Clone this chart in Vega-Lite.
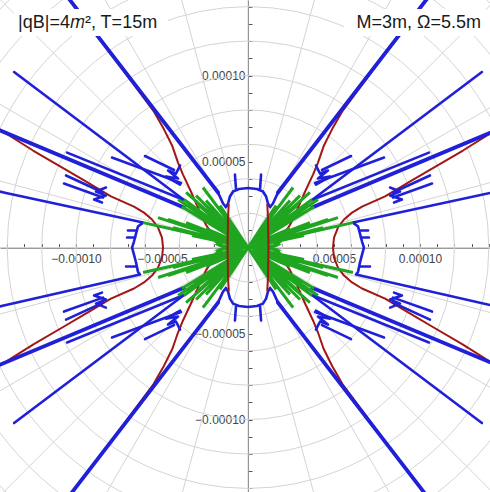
{
"$schema":"https://vega.github.io/schema/vega-lite/v6.json",
"width":490,"height":492,"padding":0,"autosize":{"type":"none"},
"background":"#ffffff",
"config":{"view":{"stroke":null}},
"datasets":{
"ring":[{"x":0,"y":0,"r":2e-5},{"x":0,"y":0,"r":4e-5},{"x":0,"y":0,"r":6e-5},{"x":0,"y":0,"r":8e-5},{"x":0,"y":0,"r":10e-5},{"x":0,"y":0,"r":12e-5},{"x":0,"y":0,"r":14e-5},{"x":0,"y":0,"r":16e-5},{"x":0,"y":0,"r":18e-5},{"x":0,"y":0,"r":20e-5}],
"spoke":[
{"x":2.2e-4,"y":0,"x2":-2.2e-4,"y2":0},
{"x":2.125e-4,"y":0.5694e-4,"x2":-2.125e-4,"y2":-0.5694e-4},
{"x":1.9053e-4,"y":1.1e-4,"x2":-1.9053e-4,"y2":-1.1e-4},
{"x":1.5556e-4,"y":1.5556e-4,"x2":-1.5556e-4,"y2":-1.5556e-4},
{"x":1.1e-4,"y":1.9053e-4,"x2":-1.1e-4,"y2":-1.9053e-4},
{"x":0.5694e-4,"y":2.125e-4,"x2":-0.5694e-4,"y2":-2.125e-4},
{"x":0,"y":2.2e-4,"x2":0,"y2":-2.2e-4},
{"x":-0.5694e-4,"y":2.125e-4,"x2":0.5694e-4,"y2":-2.125e-4},
{"x":-1.1e-4,"y":1.9053e-4,"x2":1.1e-4,"y2":-1.9053e-4},
{"x":-1.5556e-4,"y":1.5556e-4,"x2":1.5556e-4,"y2":-1.5556e-4},
{"x":-1.9053e-4,"y":1.1e-4,"x2":1.9053e-4,"y2":-1.1e-4},
{"x":-2.125e-4,"y":0.5694e-4,"x2":2.125e-4,"y2":-0.5694e-4}],
"red":[
{"s":"r1","x":15.23e-5,"y":7.15e-5},{"s":"r1","x":14.07e-5,"y":6.63e-5},{"s":"r1","x":12.5e-5,"y":5.64e-5},{"s":"r1","x":10.7e-5,"y":4.59e-5},{"s":"r1","x":9.53e-5,"y":3.9e-5},{"s":"r1","x":7.97e-5,"y":2.97e-5},{"s":"r1","x":6.63e-5,"y":2.38e-5},{"s":"r1","x":6.05e-5,"y":2.03e-5},{"s":"r1","x":5.58e-5,"y":1.63e-5},{"s":"r1","x":5.23e-5,"y":1.16e-5},{"s":"r1","x":5.0e-5,"y":0.58e-5},{"s":"r1","x":4.94e-5,"y":0},{"s":"r1","x":5.0e-5,"y":-0.58e-5},{"s":"r1","x":5.23e-5,"y":-1.16e-5},{"s":"r1","x":5.58e-5,"y":-1.63e-5},{"s":"r1","x":6.05e-5,"y":-2.03e-5},{"s":"r1","x":6.63e-5,"y":-2.38e-5},{"s":"r1","x":7.97e-5,"y":-2.97e-5},{"s":"r1","x":9.53e-5,"y":-3.9e-5},{"s":"r1","x":10.7e-5,"y":-4.59e-5},{"s":"r1","x":12.5e-5,"y":-5.64e-5},{"s":"r1","x":14.07e-5,"y":-6.63e-5},{"s":"r1","x":15.23e-5,"y":-7.15e-5},
{"s":"r2","x":-15.23e-5,"y":7.15e-5},{"s":"r2","x":-14.07e-5,"y":6.63e-5},{"s":"r2","x":-12.5e-5,"y":5.64e-5},{"s":"r2","x":-10.7e-5,"y":4.59e-5},{"s":"r2","x":-9.53e-5,"y":3.9e-5},{"s":"r2","x":-7.97e-5,"y":2.97e-5},{"s":"r2","x":-6.63e-5,"y":2.38e-5},{"s":"r2","x":-6.05e-5,"y":2.03e-5},{"s":"r2","x":-5.58e-5,"y":1.63e-5},{"s":"r2","x":-5.23e-5,"y":1.16e-5},{"s":"r2","x":-5.0e-5,"y":0.58e-5},{"s":"r2","x":-4.94e-5,"y":0},{"s":"r2","x":-5.0e-5,"y":-0.58e-5},{"s":"r2","x":-5.23e-5,"y":-1.16e-5},{"s":"r2","x":-5.58e-5,"y":-1.63e-5},{"s":"r2","x":-6.05e-5,"y":-2.03e-5},{"s":"r2","x":-6.63e-5,"y":-2.38e-5},{"s":"r2","x":-7.97e-5,"y":-2.97e-5},{"s":"r2","x":-9.53e-5,"y":-3.9e-5},{"s":"r2","x":-10.7e-5,"y":-4.59e-5},{"s":"r2","x":-12.5e-5,"y":-5.64e-5},{"s":"r2","x":-14.07e-5,"y":-6.63e-5},{"s":"r2","x":-15.23e-5,"y":-7.15e-5},
{"s":"q1","x":1.63e-5,"y":0.35e-5},{"s":"q1","x":2.09e-5,"y":0.81e-5},{"s":"q1","x":2.44e-5,"y":1.31e-5},{"s":"q1","x":2.91e-5,"y":2.33e-5},{"s":"q1","x":3.37e-5,"y":3.37e-5},{"s":"q1","x":3.78e-5,"y":4.24e-5},{"s":"q1","x":4.07e-5,"y":4.94e-5},{"s":"q1","x":4.4e-5,"y":5.9e-5},{"s":"q1","x":4.9e-5,"y":6.9e-5},{"s":"q1","x":5.5e-5,"y":7.95e-5},{"s":"q1","x":8.14e-5,"y":11.5e-5},{"s":"q1","x":11.05e-5,"y":15.29e-5},
{"s":"q2","x":-1.63e-5,"y":0.35e-5},{"s":"q2","x":-2.09e-5,"y":0.81e-5},{"s":"q2","x":-2.44e-5,"y":1.31e-5},{"s":"q2","x":-2.91e-5,"y":2.33e-5},{"s":"q2","x":-3.37e-5,"y":3.37e-5},{"s":"q2","x":-3.78e-5,"y":4.24e-5},{"s":"q2","x":-4.07e-5,"y":4.94e-5},{"s":"q2","x":-4.4e-5,"y":5.9e-5},{"s":"q2","x":-4.9e-5,"y":6.9e-5},{"s":"q2","x":-5.5e-5,"y":7.95e-5},{"s":"q2","x":-8.14e-5,"y":11.5e-5},{"s":"q2","x":-11.05e-5,"y":15.29e-5},
{"s":"q3","x":1.63e-5,"y":-0.35e-5},{"s":"q3","x":2.09e-5,"y":-0.81e-5},{"s":"q3","x":2.44e-5,"y":-1.31e-5},{"s":"q3","x":2.91e-5,"y":-2.33e-5},{"s":"q3","x":3.37e-5,"y":-3.37e-5},{"s":"q3","x":3.78e-5,"y":-4.24e-5},{"s":"q3","x":4.07e-5,"y":-4.94e-5},{"s":"q3","x":4.4e-5,"y":-5.9e-5},{"s":"q3","x":4.9e-5,"y":-6.9e-5},{"s":"q3","x":5.5e-5,"y":-7.95e-5},{"s":"q3","x":8.14e-5,"y":-11.5e-5},{"s":"q3","x":11.05e-5,"y":-15.29e-5},
{"s":"q4","x":-1.63e-5,"y":-0.35e-5},{"s":"q4","x":-2.09e-5,"y":-0.81e-5},{"s":"q4","x":-2.44e-5,"y":-1.31e-5},{"s":"q4","x":-2.91e-5,"y":-2.33e-5},{"s":"q4","x":-3.37e-5,"y":-3.37e-5},{"s":"q4","x":-3.78e-5,"y":-4.24e-5},{"s":"q4","x":-4.07e-5,"y":-4.94e-5},{"s":"q4","x":-4.4e-5,"y":-5.9e-5},{"s":"q4","x":-4.9e-5,"y":-6.9e-5},{"s":"q4","x":-5.5e-5,"y":-7.95e-5},{"s":"q4","x":-8.14e-5,"y":-11.5e-5},{"s":"q4","x":-11.05e-5,"y":-15.29e-5}],
"redTop":[
{"s":"s1","x":1.12e-5,"y":2.5e-5},{"s":"s1","x":1.16e-5,"y":1.74e-5},{"s":"s1","x":1.19e-5,"y":0},{"s":"s1","x":1.16e-5,"y":-1.74e-5},{"s":"s1","x":1.12e-5,"y":-2.5e-5},
{"s":"s2","x":-1.12e-5,"y":2.5e-5},{"s":"s2","x":-1.16e-5,"y":1.74e-5},{"s":"s2","x":-1.19e-5,"y":0},{"s":"s2","x":-1.16e-5,"y":-1.74e-5},{"s":"s2","x":-1.12e-5,"y":-2.5e-5}],
"blue":[
{"s":"o1","x":-1.74e-5,"y":3.2e-5},{"s":"o1","x":-1.45e-5,"y":2.56e-5},{"s":"o1","x":-1.28e-5,"y":2.35e-5},{"s":"o1","x":-1.16e-5,"y":2.56e-5},{"s":"o1","x":-1.05e-5,"y":2.97e-5},{"s":"o1","x":-0.87e-5,"y":3.26e-5},{"s":"o1","x":-0.52e-5,"y":3.4e-5},{"s":"o1","x":0,"y":3.46e-5},{"s":"o1","x":0.52e-5,"y":3.4e-5},{"s":"o1","x":0.87e-5,"y":3.26e-5},{"s":"o1","x":1.05e-5,"y":2.97e-5},{"s":"o1","x":1.16e-5,"y":2.56e-5},{"s":"o1","x":1.28e-5,"y":2.35e-5},{"s":"o1","x":1.45e-5,"y":2.56e-5},{"s":"o1","x":1.74e-5,"y":3.2e-5},
{"s":"o2","x":-1.74e-5,"y":-3.2e-5},{"s":"o2","x":-1.45e-5,"y":-2.56e-5},{"s":"o2","x":-1.28e-5,"y":-2.35e-5},{"s":"o2","x":-1.16e-5,"y":-2.56e-5},{"s":"o2","x":-1.05e-5,"y":-2.97e-5},{"s":"o2","x":-0.87e-5,"y":-3.26e-5},{"s":"o2","x":-0.52e-5,"y":-3.4e-5},{"s":"o2","x":0,"y":-3.46e-5},{"s":"o2","x":0.52e-5,"y":-3.4e-5},{"s":"o2","x":0.87e-5,"y":-3.26e-5},{"s":"o2","x":1.05e-5,"y":-2.97e-5},{"s":"o2","x":1.16e-5,"y":-2.56e-5},{"s":"o2","x":1.28e-5,"y":-2.35e-5},{"s":"o2","x":1.45e-5,"y":-2.56e-5},{"s":"o2","x":1.74e-5,"y":-3.2e-5},
{"s":"a1","x":0.7e-5,"y":3.43e-5},{"s":"a1","x":0.76e-5,"y":4.24e-5},
{"s":"a2","x":-0.7e-5,"y":3.43e-5},{"s":"a2","x":-0.76e-5,"y":4.24e-5},
{"s":"a3","x":0.7e-5,"y":-3.43e-5},{"s":"a3","x":0.76e-5,"y":-4.24e-5},
{"s":"a4","x":-0.7e-5,"y":-3.43e-5},{"s":"a4","x":-0.76e-5,"y":-4.24e-5},
{"s":"b2a","x":3.72e-5,"y":2.76e-5},{"s":"b2a","x":13.6e-5,"y":10.2e-5},
{"s":"b2b","x":-3.72e-5,"y":2.76e-5},{"s":"b2b","x":-13.6e-5,"y":10.2e-5},
{"s":"b2c","x":3.72e-5,"y":-2.76e-5},{"s":"b2c","x":13.6e-5,"y":-10.2e-5},
{"s":"b2d","x":-3.72e-5,"y":-2.76e-5},{"s":"b2d","x":-13.6e-5,"y":-10.2e-5},
{"s":"bba","x":3.72e-5,"y":2.76e-5},{"s":"bba","x":10.52e-5,"y":5.52e-5},
{"s":"bbb","x":-3.72e-5,"y":2.76e-5},{"s":"bbb","x":-10.52e-5,"y":5.52e-5},
{"s":"bbc","x":3.72e-5,"y":-2.76e-5},{"s":"bbc","x":10.52e-5,"y":-5.52e-5},
{"s":"bbd","x":-3.72e-5,"y":-2.76e-5},{"s":"bbd","x":-10.52e-5,"y":-5.52e-5},
{"s":"cca","x":3.9e-5,"y":3.75e-5},{"s":"cca","x":7.91e-5,"y":5.23e-5},
{"s":"ccb","x":-3.9e-5,"y":3.75e-5},{"s":"ccb","x":-7.91e-5,"y":5.23e-5},
{"s":"ccc","x":3.9e-5,"y":-3.75e-5},{"s":"ccc","x":7.91e-5,"y":-5.23e-5},
{"s":"ccd","x":-3.9e-5,"y":-3.75e-5},{"s":"ccd","x":-7.91e-5,"y":-5.23e-5},
{"s":"dda","x":4.3e-5,"y":4.51e-5},{"s":"dda","x":5.99e-5,"y":5.32e-5},
{"s":"ddb","x":-4.3e-5,"y":4.51e-5},{"s":"ddb","x":-5.99e-5,"y":5.32e-5},
{"s":"ddc","x":4.3e-5,"y":-4.51e-5},{"s":"ddc","x":5.99e-5,"y":-5.32e-5},
{"s":"ddd","x":-4.3e-5,"y":-4.51e-5},{"s":"ddd","x":-5.99e-5,"y":-5.32e-5},
{"s":"z1a","x":3.95e-5,"y":4.77e-5},{"s":"z1a","x":4.19e-5,"y":4.3e-5},{"s":"z1a","x":4.65e-5,"y":4.48e-5},{"s":"z1a","x":4.07e-5,"y":4.01e-5},{"s":"z1a","x":4.77e-5,"y":4.13e-5},{"s":"z1a","x":3.95e-5,"y":3.66e-5},
{"s":"z1b","x":-3.95e-5,"y":4.77e-5},{"s":"z1b","x":-4.19e-5,"y":4.3e-5},{"s":"z1b","x":-4.65e-5,"y":4.48e-5},{"s":"z1b","x":-4.07e-5,"y":4.01e-5},{"s":"z1b","x":-4.77e-5,"y":4.13e-5},{"s":"z1b","x":-3.95e-5,"y":3.66e-5},
{"s":"z1c","x":3.95e-5,"y":-4.77e-5},{"s":"z1c","x":4.19e-5,"y":-4.3e-5},{"s":"z1c","x":4.65e-5,"y":-4.48e-5},{"s":"z1c","x":4.07e-5,"y":-4.01e-5},{"s":"z1c","x":4.77e-5,"y":-4.13e-5},{"s":"z1c","x":3.95e-5,"y":-3.66e-5},
{"s":"z1d","x":-3.95e-5,"y":-4.77e-5},{"s":"z1d","x":-4.19e-5,"y":-4.3e-5},{"s":"z1d","x":-4.65e-5,"y":-4.48e-5},{"s":"z1d","x":-4.07e-5,"y":-4.01e-5},{"s":"z1d","x":-4.77e-5,"y":-4.13e-5},{"s":"z1d","x":-3.95e-5,"y":-3.66e-5},
{"s":"e1a","x":8.43e-5,"y":2.91e-5},{"s":"e1a","x":10.7e-5,"y":3.72e-5},
{"s":"e1b","x":-8.43e-5,"y":2.91e-5},{"s":"e1b","x":-10.7e-5,"y":3.72e-5},
{"s":"e1c","x":8.43e-5,"y":-2.91e-5},{"s":"e1c","x":10.7e-5,"y":-3.72e-5},
{"s":"e1d","x":-8.43e-5,"y":-2.91e-5},{"s":"e1d","x":-10.7e-5,"y":-3.72e-5},
{"s":"e2a","x":8.43e-5,"y":3.2e-5},{"s":"e2a","x":10.58e-5,"y":4.19e-5},
{"s":"e2b","x":-8.43e-5,"y":3.2e-5},{"s":"e2b","x":-10.58e-5,"y":4.19e-5},
{"s":"e2c","x":8.43e-5,"y":-3.2e-5},{"s":"e2c","x":10.58e-5,"y":-4.19e-5},
{"s":"e2d","x":-8.43e-5,"y":-3.2e-5},{"s":"e2d","x":-10.58e-5,"y":-4.19e-5},
{"s":"z2a","x":8.26e-5,"y":3.49e-5},{"s":"z2a","x":8.84e-5,"y":3.26e-5},{"s":"z2a","x":8.26e-5,"y":3.02e-5},{"s":"z2a","x":8.95e-5,"y":2.79e-5},{"s":"z2a","x":8.49e-5,"y":2.62e-5},
{"s":"z2b","x":-8.26e-5,"y":3.49e-5},{"s":"z2b","x":-8.84e-5,"y":3.26e-5},{"s":"z2b","x":-8.26e-5,"y":3.02e-5},{"s":"z2b","x":-8.95e-5,"y":2.79e-5},{"s":"z2b","x":-8.49e-5,"y":2.62e-5},
{"s":"z2c","x":8.26e-5,"y":-3.49e-5},{"s":"z2c","x":8.84e-5,"y":-3.26e-5},{"s":"z2c","x":8.26e-5,"y":-3.02e-5},{"s":"z2c","x":8.95e-5,"y":-2.79e-5},{"s":"z2c","x":8.49e-5,"y":-2.62e-5},
{"s":"z2d","x":-8.26e-5,"y":-3.49e-5},{"s":"z2d","x":-8.84e-5,"y":-3.26e-5},{"s":"z2d","x":-8.26e-5,"y":-3.02e-5},{"s":"z2d","x":-8.95e-5,"y":-2.79e-5},{"s":"z2d","x":-8.49e-5,"y":-2.62e-5},
{"s":"v1","x":15.12e-5,"y":3.4e-5},{"s":"v1","x":14.07e-5,"y":3.17e-5},{"s":"v1","x":6.1e-5,"y":1.45e-5},{"s":"v1","x":6.4e-5,"y":1.22e-5},{"s":"v1","x":6.51e-5,"y":0.81e-5},{"s":"v1","x":6.63e-5,"y":0.35e-5},{"s":"v1","x":6.74e-5,"y":0},{"s":"v1","x":6.63e-5,"y":-0.41e-5},{"s":"v1","x":6.51e-5,"y":-0.87e-5},{"s":"v1","x":6.4e-5,"y":-1.4e-5},{"s":"v1","x":6.28e-5,"y":-1.57e-5},{"s":"v1","x":14.07e-5,"y":-3.34e-5},{"s":"v1","x":15.12e-5,"y":-3.58e-5},
{"s":"v2","x":-15.12e-5,"y":3.4e-5},{"s":"v2","x":-14.07e-5,"y":3.17e-5},{"s":"v2","x":-6.1e-5,"y":1.45e-5},{"s":"v2","x":-6.4e-5,"y":1.22e-5},{"s":"v2","x":-6.51e-5,"y":0.81e-5},{"s":"v2","x":-6.63e-5,"y":0.35e-5},{"s":"v2","x":-6.74e-5,"y":0},{"s":"v2","x":-6.63e-5,"y":-0.41e-5},{"s":"v2","x":-6.51e-5,"y":-0.87e-5},{"s":"v2","x":-6.4e-5,"y":-1.4e-5},{"s":"v2","x":-6.28e-5,"y":-1.57e-5},{"s":"v2","x":-14.07e-5,"y":-3.34e-5},{"s":"v2","x":-15.12e-5,"y":-3.58e-5},
{"s":"w1","x":6.57e-5,"y":0.99e-5},{"s":"w1","x":6.98e-5,"y":0.99e-5},
{"s":"w2","x":6.57e-5,"y":0.58e-5},{"s":"w2","x":7.03e-5,"y":0.58e-5},
{"s":"w3","x":6.51e-5,"y":-1.1e-5},{"s":"w3","x":7.09e-5,"y":-1.1e-5},
{"s":"w4","x":-6.57e-5,"y":0.99e-5},{"s":"w4","x":-6.98e-5,"y":0.99e-5},
{"s":"w5","x":-6.57e-5,"y":0.58e-5},{"s":"w5","x":-7.03e-5,"y":0.58e-5},
{"s":"w6","x":-6.51e-5,"y":-1.1e-5},{"s":"w6","x":-7.09e-5,"y":-1.1e-5}],
"thick":[
{"s":"t1","x":1.74e-5,"y":3.2e-5},{"s":"t1","x":11.05e-5,"y":15.29e-5},
{"s":"t2","x":-1.74e-5,"y":3.2e-5},{"s":"t2","x":-11.05e-5,"y":15.29e-5},
{"s":"t3","x":1.74e-5,"y":-3.2e-5},{"s":"t3","x":11.05e-5,"y":-15.29e-5},
{"s":"t4","x":-1.74e-5,"y":-3.2e-5},{"s":"t4","x":-11.05e-5,"y":-15.29e-5},
{"s":"t5","x":3.72e-5,"y":2.33e-5},{"s":"t5","x":15.23e-5,"y":7.15e-5},
{"s":"t6","x":-3.72e-5,"y":2.33e-5},{"s":"t6","x":-15.23e-5,"y":7.15e-5},
{"s":"t7","x":3.72e-5,"y":-2.33e-5},{"s":"t7","x":15.23e-5,"y":-7.15e-5},
{"s":"t8","x":-3.72e-5,"y":-2.33e-5},{"s":"t8","x":-15.23e-5,"y":-7.15e-5}],
"green":[
{"s":"g1","x":0,"y":0},{"s":"g1","x":1.63e-5,"y":0.12e-5},{"s":"g1","x":1.8e-5,"y":0.29e-5},{"s":"g1","x":1.51e-5,"y":0.35e-5},{"s":"g1","x":2.09e-5,"y":0.58e-5},{"s":"g1","x":0.23e-5,"y":0.06e-5},{"s":"g1","x":3.26e-5,"y":0.7e-5},{"s":"g1","x":0.29e-5,"y":0.12e-5},{"s":"g1","x":3.72e-5,"y":0.93e-5},{"s":"g1","x":0.23e-5,"y":0.12e-5},{"s":"g1","x":4.36e-5,"y":1.16e-5},{"s":"g1","x":0.23e-5,"y":0.12e-5},{"s":"g1","x":2.44e-5,"y":1.1e-5},{"s":"g1","x":0.29e-5,"y":0.17e-5},{"s":"g1","x":3.6e-5,"y":1.45e-5},{"s":"g1","x":0.29e-5,"y":0.17e-5},{"s":"g1","x":4.65e-5,"y":1.63e-5},{"s":"g1","x":0.29e-5,"y":0.17e-5},{"s":"g1","x":6.1e-5,"y":1.45e-5},{"s":"g1","x":0.23e-5,"y":0.12e-5},{"s":"g1","x":5.23e-5,"y":1.74e-5},{"s":"g1","x":0.23e-5,"y":0.12e-5},{"s":"g1","x":2.62e-5,"y":1.74e-5},{"s":"g1","x":0.23e-5,"y":0.17e-5},{"s":"g1","x":3.84e-5,"y":2.38e-5},{"s":"g1","x":0.23e-5,"y":0.17e-5},{"s":"g1","x":3.2e-5,"y":2.03e-5},{"s":"g1","x":0.23e-5,"y":0.17e-5},{"s":"g1","x":2.91e-5,"y":2.5e-5},{"s":"g1","x":0.17e-5,"y":0.17e-5},{"s":"g1","x":3.72e-5,"y":2.79e-5},{"s":"g1","x":0.17e-5,"y":0.17e-5},{"s":"g1","x":4.07e-5,"y":2.79e-5},{"s":"g1","x":0.17e-5,"y":0.17e-5},{"s":"g1","x":3.6e-5,"y":3.2e-5},{"s":"g1","x":0.17e-5,"y":0.17e-5},{"s":"g1","x":3.02e-5,"y":3.02e-5},{"s":"g1","x":0.17e-5,"y":0.17e-5},{"s":"g1","x":2.44e-5,"y":2.73e-5},{"s":"g1","x":0.17e-5,"y":0.23e-5},{"s":"g1","x":2.62e-5,"y":3.49e-5},{"s":"g1","x":0.17e-5,"y":0.23e-5},{"s":"g1","x":1.63e-5,"y":2.44e-5},{"s":"g1","x":0,"y":0},
{"s":"g2","x":0,"y":0},{"s":"g2","x":-1.63e-5,"y":0.12e-5},{"s":"g2","x":-1.8e-5,"y":0.29e-5},{"s":"g2","x":-1.51e-5,"y":0.35e-5},{"s":"g2","x":-2.09e-5,"y":0.58e-5},{"s":"g2","x":-0.23e-5,"y":0.06e-5},{"s":"g2","x":-3.26e-5,"y":0.7e-5},{"s":"g2","x":-0.29e-5,"y":0.12e-5},{"s":"g2","x":-3.72e-5,"y":0.93e-5},{"s":"g2","x":-0.23e-5,"y":0.12e-5},{"s":"g2","x":-4.36e-5,"y":1.16e-5},{"s":"g2","x":-0.23e-5,"y":0.12e-5},{"s":"g2","x":-2.44e-5,"y":1.1e-5},{"s":"g2","x":-0.29e-5,"y":0.17e-5},{"s":"g2","x":-3.6e-5,"y":1.45e-5},{"s":"g2","x":-0.29e-5,"y":0.17e-5},{"s":"g2","x":-4.65e-5,"y":1.63e-5},{"s":"g2","x":-0.29e-5,"y":0.17e-5},{"s":"g2","x":-6.1e-5,"y":1.45e-5},{"s":"g2","x":-0.23e-5,"y":0.12e-5},{"s":"g2","x":-5.23e-5,"y":1.74e-5},{"s":"g2","x":-0.23e-5,"y":0.12e-5},{"s":"g2","x":-2.62e-5,"y":1.74e-5},{"s":"g2","x":-0.23e-5,"y":0.17e-5},{"s":"g2","x":-3.84e-5,"y":2.38e-5},{"s":"g2","x":-0.23e-5,"y":0.17e-5},{"s":"g2","x":-3.2e-5,"y":2.03e-5},{"s":"g2","x":-0.23e-5,"y":0.17e-5},{"s":"g2","x":-2.91e-5,"y":2.5e-5},{"s":"g2","x":-0.17e-5,"y":0.17e-5},{"s":"g2","x":-3.72e-5,"y":2.79e-5},{"s":"g2","x":-0.17e-5,"y":0.17e-5},{"s":"g2","x":-4.07e-5,"y":2.79e-5},{"s":"g2","x":-0.17e-5,"y":0.17e-5},{"s":"g2","x":-3.6e-5,"y":3.2e-5},{"s":"g2","x":-0.17e-5,"y":0.17e-5},{"s":"g2","x":-3.02e-5,"y":3.02e-5},{"s":"g2","x":-0.17e-5,"y":0.17e-5},{"s":"g2","x":-2.44e-5,"y":2.73e-5},{"s":"g2","x":-0.17e-5,"y":0.23e-5},{"s":"g2","x":-2.62e-5,"y":3.49e-5},{"s":"g2","x":-0.17e-5,"y":0.23e-5},{"s":"g2","x":-1.63e-5,"y":2.44e-5},{"s":"g2","x":0,"y":0},
{"s":"g3","x":0,"y":0},{"s":"g3","x":1.63e-5,"y":-0.12e-5},{"s":"g3","x":1.8e-5,"y":-0.29e-5},{"s":"g3","x":1.51e-5,"y":-0.35e-5},{"s":"g3","x":2.09e-5,"y":-0.58e-5},{"s":"g3","x":0.23e-5,"y":-0.06e-5},{"s":"g3","x":3.26e-5,"y":-0.7e-5},{"s":"g3","x":0.29e-5,"y":-0.12e-5},{"s":"g3","x":3.72e-5,"y":-0.93e-5},{"s":"g3","x":0.23e-5,"y":-0.12e-5},{"s":"g3","x":4.36e-5,"y":-1.16e-5},{"s":"g3","x":0.23e-5,"y":-0.12e-5},{"s":"g3","x":2.44e-5,"y":-1.1e-5},{"s":"g3","x":0.29e-5,"y":-0.17e-5},{"s":"g3","x":3.6e-5,"y":-1.45e-5},{"s":"g3","x":0.29e-5,"y":-0.17e-5},{"s":"g3","x":4.65e-5,"y":-1.63e-5},{"s":"g3","x":0.29e-5,"y":-0.17e-5},{"s":"g3","x":6.1e-5,"y":-1.45e-5},{"s":"g3","x":0.23e-5,"y":-0.12e-5},{"s":"g3","x":5.23e-5,"y":-1.74e-5},{"s":"g3","x":0.23e-5,"y":-0.12e-5},{"s":"g3","x":2.62e-5,"y":-1.74e-5},{"s":"g3","x":0.23e-5,"y":-0.17e-5},{"s":"g3","x":3.84e-5,"y":-2.38e-5},{"s":"g3","x":0.23e-5,"y":-0.17e-5},{"s":"g3","x":3.2e-5,"y":-2.03e-5},{"s":"g3","x":0.23e-5,"y":-0.17e-5},{"s":"g3","x":2.91e-5,"y":-2.5e-5},{"s":"g3","x":0.17e-5,"y":-0.17e-5},{"s":"g3","x":3.72e-5,"y":-2.79e-5},{"s":"g3","x":0.17e-5,"y":-0.17e-5},{"s":"g3","x":4.07e-5,"y":-2.79e-5},{"s":"g3","x":0.17e-5,"y":-0.17e-5},{"s":"g3","x":3.6e-5,"y":-3.2e-5},{"s":"g3","x":0.17e-5,"y":-0.17e-5},{"s":"g3","x":3.02e-5,"y":-3.02e-5},{"s":"g3","x":0.17e-5,"y":-0.17e-5},{"s":"g3","x":2.44e-5,"y":-2.73e-5},{"s":"g3","x":0.17e-5,"y":-0.23e-5},{"s":"g3","x":2.62e-5,"y":-3.49e-5},{"s":"g3","x":0.17e-5,"y":-0.23e-5},{"s":"g3","x":1.63e-5,"y":-2.44e-5},{"s":"g3","x":0,"y":0},
{"s":"g4","x":0,"y":0},{"s":"g4","x":-1.63e-5,"y":-0.12e-5},{"s":"g4","x":-1.8e-5,"y":-0.29e-5},{"s":"g4","x":-1.51e-5,"y":-0.35e-5},{"s":"g4","x":-2.09e-5,"y":-0.58e-5},{"s":"g4","x":-0.23e-5,"y":-0.06e-5},{"s":"g4","x":-3.26e-5,"y":-0.7e-5},{"s":"g4","x":-0.29e-5,"y":-0.12e-5},{"s":"g4","x":-3.72e-5,"y":-0.93e-5},{"s":"g4","x":-0.23e-5,"y":-0.12e-5},{"s":"g4","x":-4.36e-5,"y":-1.16e-5},{"s":"g4","x":-0.23e-5,"y":-0.12e-5},{"s":"g4","x":-2.44e-5,"y":-1.1e-5},{"s":"g4","x":-0.29e-5,"y":-0.17e-5},{"s":"g4","x":-3.6e-5,"y":-1.45e-5},{"s":"g4","x":-0.29e-5,"y":-0.17e-5},{"s":"g4","x":-4.65e-5,"y":-1.63e-5},{"s":"g4","x":-0.29e-5,"y":-0.17e-5},{"s":"g4","x":-6.1e-5,"y":-1.45e-5},{"s":"g4","x":-0.23e-5,"y":-0.12e-5},{"s":"g4","x":-5.23e-5,"y":-1.74e-5},{"s":"g4","x":-0.23e-5,"y":-0.12e-5},{"s":"g4","x":-2.62e-5,"y":-1.74e-5},{"s":"g4","x":-0.23e-5,"y":-0.17e-5},{"s":"g4","x":-3.84e-5,"y":-2.38e-5},{"s":"g4","x":-0.23e-5,"y":-0.17e-5},{"s":"g4","x":-3.2e-5,"y":-2.03e-5},{"s":"g4","x":-0.23e-5,"y":-0.17e-5},{"s":"g4","x":-2.91e-5,"y":-2.5e-5},{"s":"g4","x":-0.17e-5,"y":-0.17e-5},{"s":"g4","x":-3.72e-5,"y":-2.79e-5},{"s":"g4","x":-0.17e-5,"y":-0.17e-5},{"s":"g4","x":-4.07e-5,"y":-2.79e-5},{"s":"g4","x":-0.17e-5,"y":-0.17e-5},{"s":"g4","x":-3.6e-5,"y":-3.2e-5},{"s":"g4","x":-0.17e-5,"y":-0.17e-5},{"s":"g4","x":-3.02e-5,"y":-3.02e-5},{"s":"g4","x":-0.17e-5,"y":-0.17e-5},{"s":"g4","x":-2.44e-5,"y":-2.73e-5},{"s":"g4","x":-0.17e-5,"y":-0.23e-5},{"s":"g4","x":-2.62e-5,"y":-3.49e-5},{"s":"g4","x":-0.17e-5,"y":-0.23e-5},{"s":"g4","x":-1.63e-5,"y":-2.44e-5},{"s":"g4","x":0,"y":0},
{"s":"h1","x":2.03e-5,"y":0.58e-5},{"s":"h1","x":1.4e-5,"y":0.35e-5},{"s":"h1","x":1.74e-5,"y":0.17e-5},{"s":"h1","x":1.28e-5,"y":0},{"s":"h1","x":1.74e-5,"y":-0.17e-5},{"s":"h1","x":1.4e-5,"y":-0.35e-5},{"s":"h1","x":2.03e-5,"y":-0.58e-5},
{"s":"h2","x":-2.03e-5,"y":0.58e-5},{"s":"h2","x":-1.4e-5,"y":0.35e-5},{"s":"h2","x":-1.74e-5,"y":0.17e-5},{"s":"h2","x":-1.28e-5,"y":0},{"s":"h2","x":-1.74e-5,"y":-0.17e-5},{"s":"h2","x":-1.4e-5,"y":-0.35e-5},{"s":"h2","x":-2.03e-5,"y":-0.58e-5}],
"box":[
{"x":-13.6e-5,"x2":-4.65e-5,"y":13.87e-5,"y2":12.3e-5},
{"x":5.58e-5,"x2":13.84e-5,"y":13.87e-5,"y2":12.3e-5}],
"lab":[
{"side":"left","t":"|qB|=4𝑚², T=15m","x":-13.37e-5,"y":13.06e-5},
{"side":"right","t":"M=3m, Ω=5.5m","x":13.55e-5,"y":13.06e-5}]
},
"encoding":{
"x":{"field":"x","type":"quantitative",
 "scale":{"domain":[-1.442e-4,1.407e-4],"nice":false,"zero":false},
 "axis":{"orient":"bottom","offset":-244.4,"title":null,"grid":false,
  "values":[-1.4e-4,-1.3e-4,-1.2e-4,-1.1e-4,-1e-4,-9e-5,-8e-5,-7e-5,-6e-5,-5e-5,-4e-5,-3e-5,-2e-5,-1e-5,1e-5,2e-5,3e-5,4e-5,5e-5,6e-5,7e-5,8e-5,9e-5,1e-4,1.1e-4,1.2e-4,1.3e-4,1.4e-4],
  "labelExpr":"abs(datum.value)==5e-5 || abs(datum.value)==1e-4 ? format(datum.value,'.5f') : ''",
  "tickSize":-4,"tickColor":"#555555","domainColor":"#555555","labelFont":"Liberation Sans","labelFontSize":12,"labelColor":"#444444","labelPadding":10,"labelFlush":false,"labelOverlap":false}},
"y":{"field":"y","type":"quantitative",
 "scale":{"domain":[-1.421e-4,1.439e-4],"nice":false,"zero":false},
 "axis":{"orient":"left","offset":-248,"title":null,"grid":false,
  "values":[-1.4e-4,-1.3e-4,-1.2e-4,-1.1e-4,-1e-4,-9e-5,-8e-5,-7e-5,-6e-5,-5e-5,-4e-5,-3e-5,-2e-5,-1e-5,1e-5,2e-5,3e-5,4e-5,5e-5,6e-5,7e-5,8e-5,9e-5,1e-4,1.1e-4,1.2e-4,1.3e-4,1.4e-4],
  "labelExpr":"abs(datum.value)==5e-5 || abs(datum.value)==1e-4 ? format(datum.value,'.5f') : ''",
  "tickSize":-4,"tickColor":"#555555","domainColor":"#555555","labelFont":"Liberation Sans","labelFontSize":12,"labelColor":"#444444","labelPadding":7,"labelFlush":false,"labelOverlap":false}}
},
"layer":[
{"data":{"name":"spoke"},"mark":{"type":"rule","color":"#d4d4d4","strokeWidth":1,"clip":true},
 "encoding":{"x2":{"field":"x2"},"y2":{"field":"y2"}}},
{"data":{"name":"ring"},"mark":{"type":"point","shape":"circle","filled":false,"color":"#d4d4d4","strokeWidth":1,"opacity":1,"clip":true},
 "encoding":{"size":{"field":"r","type":"quantitative","legend":null,"scale":{"type":"pow","exponent":2,"domain":[0,2e-4],"range":[0,473344]}}}},
{"data":{"name":"red"},"mark":{"type":"line","color":"#a31616","strokeWidth":2,"strokeJoin":"round","strokeCap":"round","clip":true},
 "encoding":{"detail":{"field":"s"},"order":{"value":null}}},
{"data":{"name":"blue"},"mark":{"type":"line","color":"#2020d8","strokeWidth":2.6,"strokeJoin":"round","strokeCap":"round","clip":true},
 "encoding":{"detail":{"field":"s"},"order":{"value":null}}},
{"data":{"name":"thick"},"mark":{"type":"line","color":"#2020d8","strokeWidth":3.8,"strokeJoin":"round","strokeCap":"round","clip":true},
 "encoding":{"detail":{"field":"s"},"order":{"value":null}}},
{"data":{"name":"green"},"mark":{"type":"line","color":"#1fa51f","strokeWidth":3,"strokeJoin":"miter","strokeCap":"round","clip":true},
 "encoding":{"detail":{"field":"s"},"order":{"value":null}}},
{"data":{"name":"redTop"},"mark":{"type":"line","color":"#a31616","strokeWidth":2,"strokeJoin":"round","strokeCap":"round","clip":true},
 "encoding":{"detail":{"field":"s"},"order":{"value":null}}},
{"data":{"name":"box"},"mark":{"type":"rect","color":"#ffffff"},
 "encoding":{"x2":{"field":"x2"},"y2":{"field":"y2"}}},
{"data":{"name":"lab"},"transform":[{"filter":"datum.side=='left'"}],
 "mark":{"type":"text","align":"left","baseline":"middle","font":"Liberation Sans","fontSize":18,"color":"#1a1a1a"},
 "encoding":{"text":{"field":"t"}}},
{"data":{"name":"lab"},"transform":[{"filter":"datum.side=='right'"}],
 "mark":{"type":"text","align":"right","baseline":"middle","font":"Liberation Sans","fontSize":18,"color":"#1a1a1a"},
 "encoding":{"text":{"field":"t"}}}
]
}
